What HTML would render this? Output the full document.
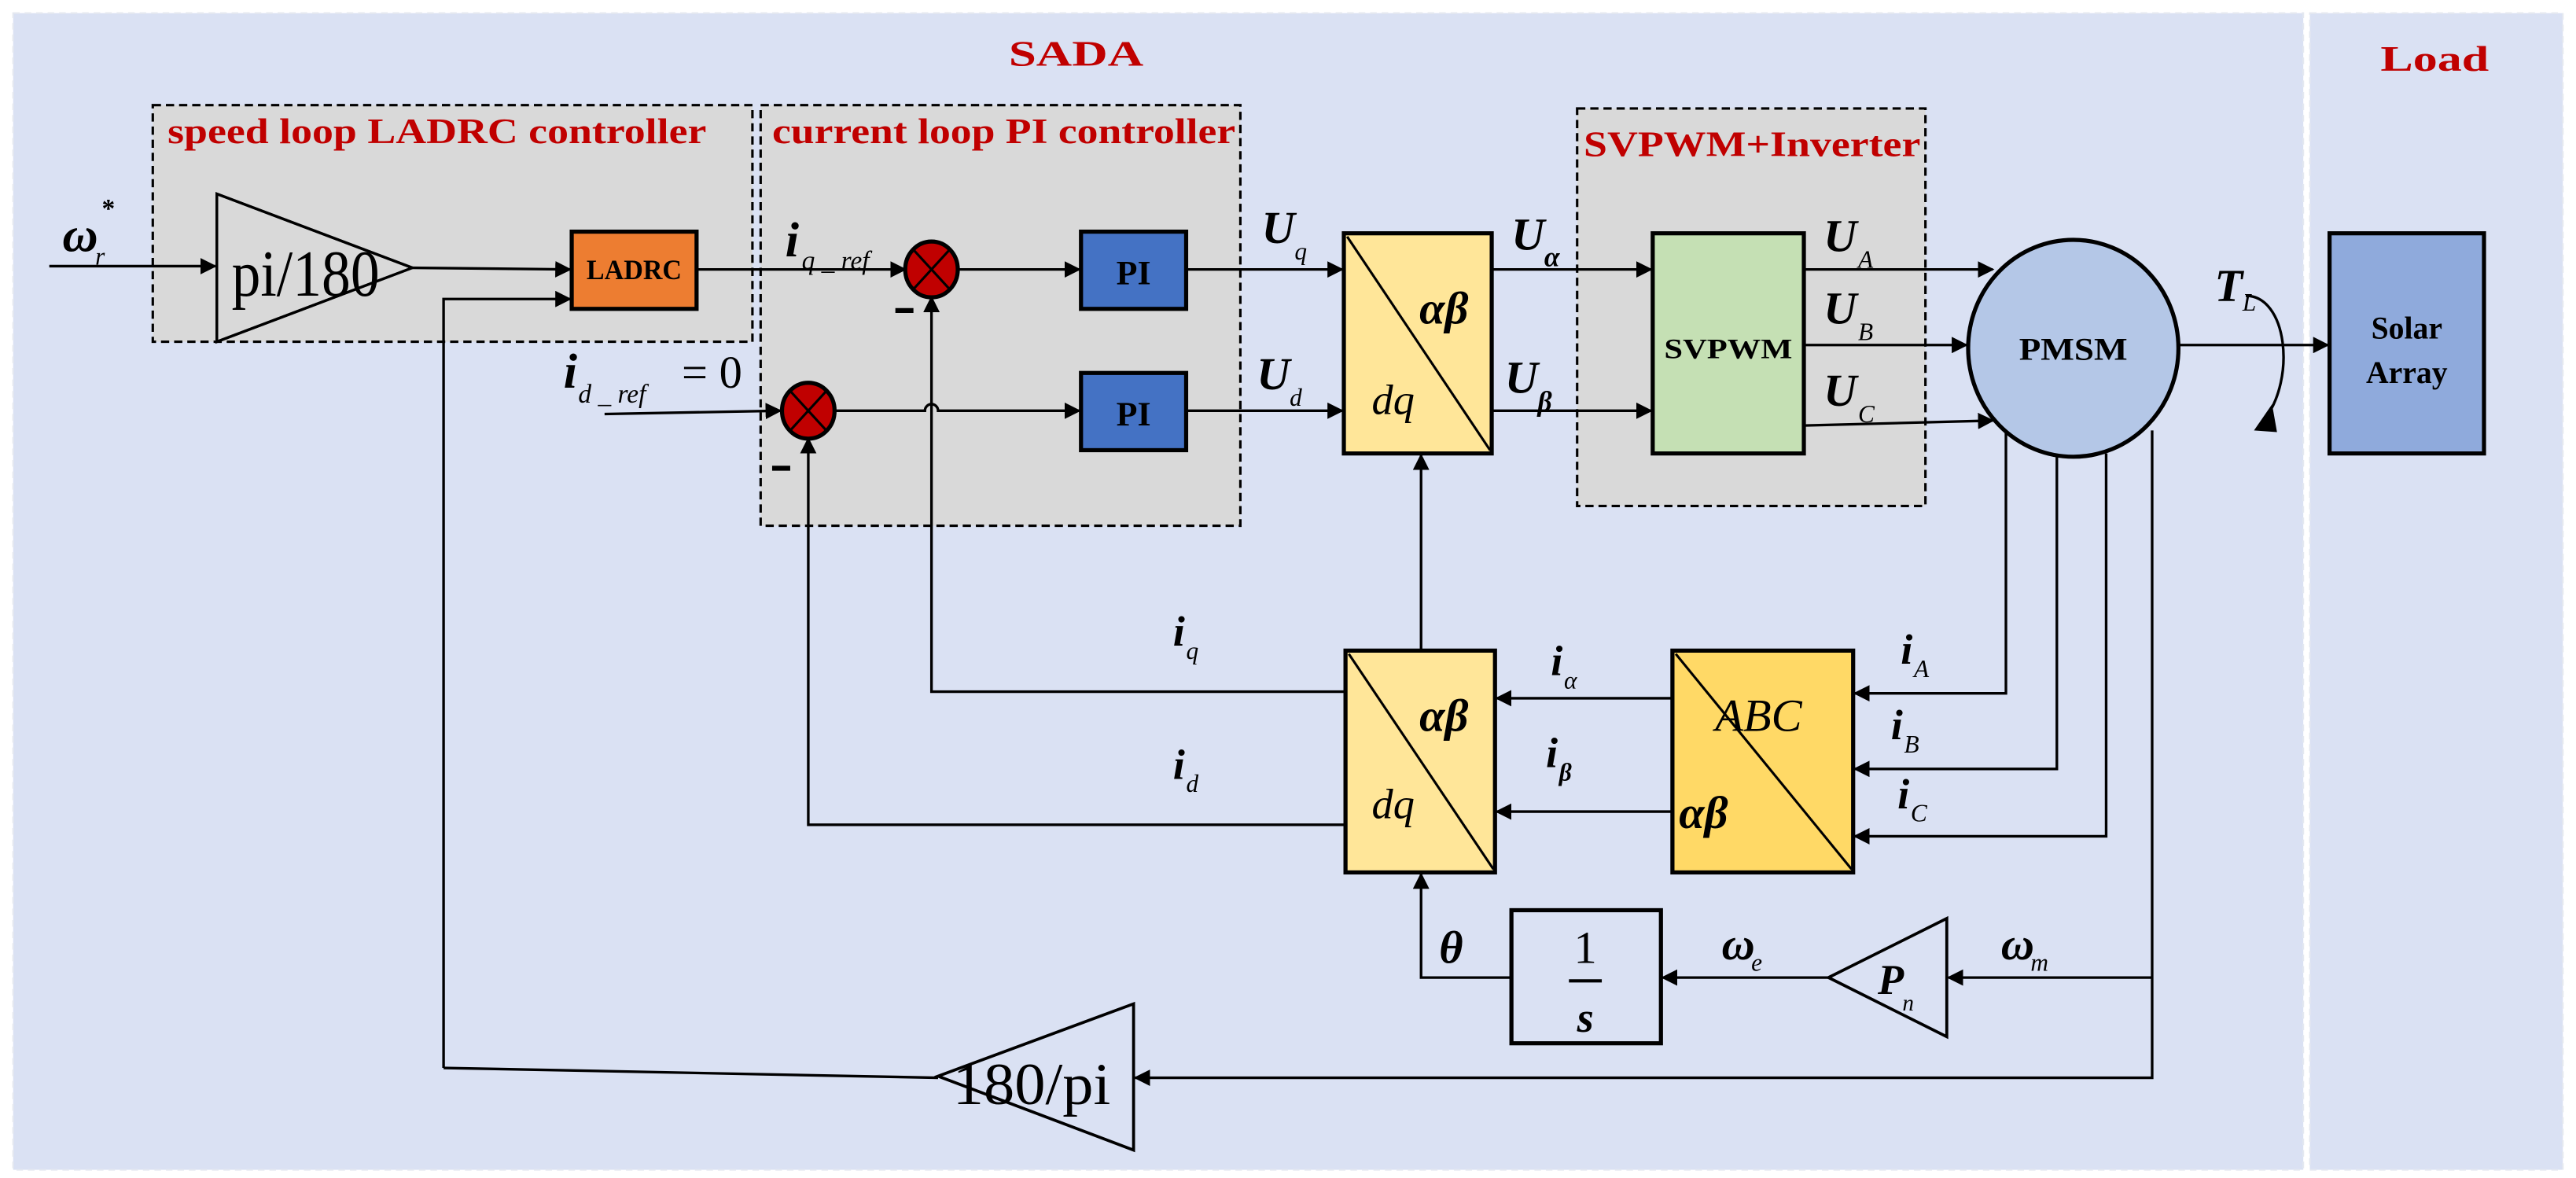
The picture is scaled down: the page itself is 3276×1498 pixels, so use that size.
<!DOCTYPE html>
<html><head><meta charset="utf-8"><style>
html,body{margin:0;padding:0;background:#fff;}
svg{display:block;}
text{font-family:"Liberation Serif","Times New Roman",serif;}
.t{font-weight:bold;fill:#c00000;font-size:22px;}
.m{font-style:italic;font-weight:bold;fill:#000;}
.s{font-style:italic;fill:#000;}
</style></head><body>
<svg width="3276" height="1498" viewBox="0 0 1568 717" preserveAspectRatio="none" xmlns="http://www.w3.org/2000/svg" font-family="Liberation Serif, Times New Roman, serif">
<defs>
<marker id="a" markerWidth="10" markerHeight="10" refX="9" refY="5" orient="auto" markerUnits="userSpaceOnUse"><path d="M0,0 L10,5 L0,10 z" fill="#000"/></marker>
</defs>
<rect width="1568" height="717" fill="#fff"/>
<rect x="8" y="8" width="1394" height="704" fill="#dae1f3" stroke="#e4e8f0" stroke-dasharray="4 3"/>
<rect x="1406" y="8" width="154" height="704" fill="#dae1f3" stroke="#e4e8f0" stroke-dasharray="4 3"/>
<text x="655" y="40" class="t" font-size="32" text-anchor="middle" textLength="82" lengthAdjust="spacingAndGlyphs">SADA</text>
<text x="1482" y="43" class="t" font-size="28" text-anchor="middle" textLength="66" lengthAdjust="spacingAndGlyphs">Load</text>

<rect x="93" y="64" width="365" height="144" fill="#d9d9d9" stroke="#000" stroke-width="1.5" stroke-dasharray="5 3"/>
<rect x="463" y="64" width="292" height="256" fill="#d9d9d9" stroke="#000" stroke-width="1.5" stroke-dasharray="5 3"/>
<rect x="960" y="66" width="212" height="242" fill="#d9d9d9" stroke="#000" stroke-width="1.5" stroke-dasharray="5 3"/>
<text x="102" y="87" class="t" font-size="24" textLength="328" lengthAdjust="spacingAndGlyphs">speed loop LADRC controller</text>
<text x="470" y="87" class="t" font-size="24" textLength="282" lengthAdjust="spacingAndGlyphs">current loop PI controller</text>
<text x="964" y="95" class="t" font-size="24" textLength="205" lengthAdjust="spacingAndGlyphs">SVPWM+Inverter</text>

<g stroke="#000" stroke-width="1.6" fill="none">
<line x1="30" y1="162" x2="131" y2="162" marker-end="url(#a)"/>
<polygon points="132,118 132,208 251,163" fill="#d9d9d9"/>
<line x1="251" y1="163" x2="347" y2="164" marker-end="url(#a)"/>
<polyline points="270,650 270,182 347,182" marker-end="url(#a)"/>
<line x1="424" y1="164" x2="551" y2="164" marker-end="url(#a)"/>
<line x1="583" y1="164" x2="657" y2="164" marker-end="url(#a)"/>
<line x1="368" y1="252" x2="475" y2="250" marker-end="url(#a)"/>
<path d="M508,250 H563 a4,4 0 0 1 8,0 H657" marker-end="url(#a)"/>
<line x1="722" y1="164" x2="817" y2="164" marker-end="url(#a)"/>
<line x1="722" y1="250" x2="817" y2="250" marker-end="url(#a)"/>
<line x1="908" y1="164" x2="1005" y2="164" marker-end="url(#a)"/>
<line x1="908" y1="250" x2="1005" y2="250" marker-end="url(#a)"/>
<line x1="1098" y1="164" x2="1213" y2="164" marker-end="url(#a)"/>
<line x1="1098" y1="210" x2="1197" y2="210" marker-end="url(#a)"/>
<line x1="1098" y1="259" x2="1213" y2="256" marker-end="url(#a)"/>
<line x1="1326" y1="210" x2="1417" y2="210" marker-end="url(#a)"/>
<polyline points="1221,262 1221,422 1129,422" marker-end="url(#a)"/>
<polyline points="1252,276 1252,468 1129,468" marker-end="url(#a)"/>
<polyline points="1282,276 1282,509 1129,509" marker-end="url(#a)"/>
<polyline points="1310,262 1310,656 691,656" marker-end="url(#a)"/>
<line x1="1310" y1="595" x2="1186" y2="595" marker-end="url(#a)"/>
<line x1="1113" y1="595" x2="1012" y2="595" marker-end="url(#a)"/>
<polyline points="920,595 865,595 865,532" marker-end="url(#a)"/>
<line x1="865" y1="396" x2="865" y2="277" marker-end="url(#a)"/>
<line x1="1018" y1="425" x2="911" y2="425" marker-end="url(#a)"/>
<line x1="1018" y1="494" x2="911" y2="494" marker-end="url(#a)"/>
<polyline points="819,421 567,421 567,181" marker-end="url(#a)"/>
<polyline points="819,502 492,502 492,267" marker-end="url(#a)"/>
<polyline points="571,656 270,650"/>
<path d="M1367,180 C1392,180 1398,230 1378,256"/>
</g>
<polygon points="1372,262 1383,246 1386,263" fill="#000"/>

<g stroke="#000" stroke-width="2.5">
<rect x="348" y="141" width="76" height="47" fill="#ed7d31"/>
<rect x="658" y="141" width="64" height="47" fill="#4472c4"/>
<rect x="658" y="227" width="64" height="47" fill="#4472c4"/>
<rect x="818" y="142" width="90" height="134" fill="#ffe699"/>
<rect x="1006" y="142" width="92" height="134" fill="#c5e0b4"/>
<rect x="819" y="396" width="91" height="135" fill="#ffe699"/>
<rect x="1018" y="396" width="110" height="135" fill="#ffd966"/>
<rect x="920" y="554" width="91" height="81" fill="none"/>
<rect x="1418" y="142" width="94" height="134" fill="#8faadc"/>
<ellipse cx="1262" cy="212" rx="64" ry="66" fill="#b4c7e7"/>
<ellipse cx="567" cy="164" rx="16" ry="17" fill="#c00000"/>
<ellipse cx="492" cy="250" rx="16" ry="17" fill="#c00000"/>
</g>
<g stroke="#000" stroke-width="1.5" fill="none">
<line x1="556" y1="152" x2="578" y2="176"/><line x1="578" y1="152" x2="556" y2="176"/>
<line x1="481" y1="238" x2="503" y2="262"/><line x1="503" y1="238" x2="481" y2="262"/>
<line x1="820" y1="144" x2="907" y2="274"/>
<line x1="821" y1="398" x2="909" y2="529"/>
<line x1="1020" y1="398" x2="1127" y2="529"/>
</g>
<polygon points="132,118 132,208 251,163" fill="none" stroke="#000" stroke-width="1.6"/>
<polygon points="1113,595 1185,559 1185,631" fill="none" stroke="#000" stroke-width="1.8"/>
<polygon points="571,655 690,611 690,700" fill="none" stroke="#000" stroke-width="1.8"/>
<line x1="545" y1="189" x2="556" y2="189" stroke="#000" stroke-width="3"/>
<line x1="470" y1="285" x2="481" y2="285" stroke="#000" stroke-width="3"/>

<g font-weight="bold" text-anchor="middle">
<text x="386" y="170" font-size="17" textLength="58" lengthAdjust="spacingAndGlyphs">LADRC</text>
<text x="690" y="173" font-size="21">PI</text>
<text x="690" y="259" font-size="21">PI</text>
<text x="1052" y="218" font-size="17" textLength="78" lengthAdjust="spacingAndGlyphs">SVPWM</text>
<text x="1262" y="219" font-size="19" textLength="66" lengthAdjust="spacingAndGlyphs">PMSM</text>
<text x="1465" y="206" font-size="19">Solar</text>
<text x="1465" y="233" font-size="19">Array</text>
<text x="186" y="180" font-size="40" font-weight="normal" textLength="90" lengthAdjust="spacingAndGlyphs">pi/180</text>
<text x="628" y="672" font-size="36" font-weight="normal" textLength="96" lengthAdjust="spacingAndGlyphs">180/pi</text>
<text x="965" y="586" font-size="28" font-weight="normal">1</text>
<line x1="955" y1="597" x2="975" y2="597" stroke="#000" stroke-width="2"/>
<text x="965" y="628" font-size="26" class="s" font-weight="bold">s</text>
</g>
<text x="38" y="153" class="m" font-size="30">ω</text><text x="58" y="161" class="s" font-size="15">r</text><text x="62" y="132" font-size="16" font-weight="bold">*</text>
<text x="478" y="156" class="m" font-size="30">i</text><text x="488" y="164" class="s" font-size="16">q _ ref</text>
<text x="343" y="236" class="m" font-size="30">i</text><text x="352" y="245" class="s" font-size="16">d _ ref</text><text x="415" y="236" font-size="28">= 0</text>
<text x="768" y="148" class="m" font-size="28">U</text><text x="788" y="158" class="s" font-size="15">q</text>
<text x="765" y="237" class="m" font-size="28">U</text><text x="785" y="247" class="s" font-size="15">d</text>
<text x="920" y="152" class="m" font-size="28">U</text><text x="940" y="162" class="m" font-size="17">α</text>
<text x="916" y="239" class="m" font-size="28">U</text><text x="936" y="250" class="m" font-size="17">β</text>
<text x="1110" y="153" class="m" font-size="28">U</text><text x="1131" y="163" class="s" font-size="15">A</text>
<text x="1110" y="197" class="m" font-size="28">U</text><text x="1131" y="207" class="s" font-size="15">B</text>
<text x="1110" y="247" class="m" font-size="28">U</text><text x="1131" y="257" class="s" font-size="15">C</text>
<text x="1348" y="183" class="m" font-size="28">T</text><text x="1365" y="189" class="s" font-size="15">L</text>
<text x="864" y="197" class="m" font-size="28">αβ</text>
<text x="835" y="252" class="s" font-size="26">dq</text>
<text x="864" y="445" class="m" font-size="28">αβ</text>
<text x="835" y="498" class="s" font-size="26">dq</text>
<text x="1044" y="445" class="s" font-size="28">ABC</text>
<text x="1022" y="504" class="m" font-size="28">αβ</text>
<text x="714" y="393" class="m" font-size="26">i</text><text x="722" y="401" class="s" font-size="15">q</text>
<text x="714" y="474" class="m" font-size="26">i</text><text x="722" y="482" class="s" font-size="15">d</text>
<text x="944" y="411" class="m" font-size="26">i</text><text x="952" y="419" class="s" font-size="15">α</text>
<text x="941" y="467" class="m" font-size="26">i</text><text x="949" y="475" class="m" font-size="15">β</text>
<text x="1157" y="404" class="m" font-size="26">i</text><text x="1165" y="412" class="s" font-size="15">A</text>
<text x="1151" y="450" class="m" font-size="26">i</text><text x="1159" y="458" class="s" font-size="15">B</text>
<text x="1155" y="492" class="m" font-size="26">i</text><text x="1163" y="500" class="s" font-size="15">C</text>
<text x="876" y="586" class="m" font-size="28">θ</text>
<text x="1048" y="584" class="m" font-size="28">ω</text><text x="1066" y="591" class="s" font-size="15">e</text>
<text x="1218" y="584" class="m" font-size="28">ω</text><text x="1236" y="591" class="s" font-size="15">m</text>
<text x="1143" y="605" class="m" font-size="26">P</text><text x="1158" y="615" class="s" font-size="14">n</text>
</svg>
</body></html>
